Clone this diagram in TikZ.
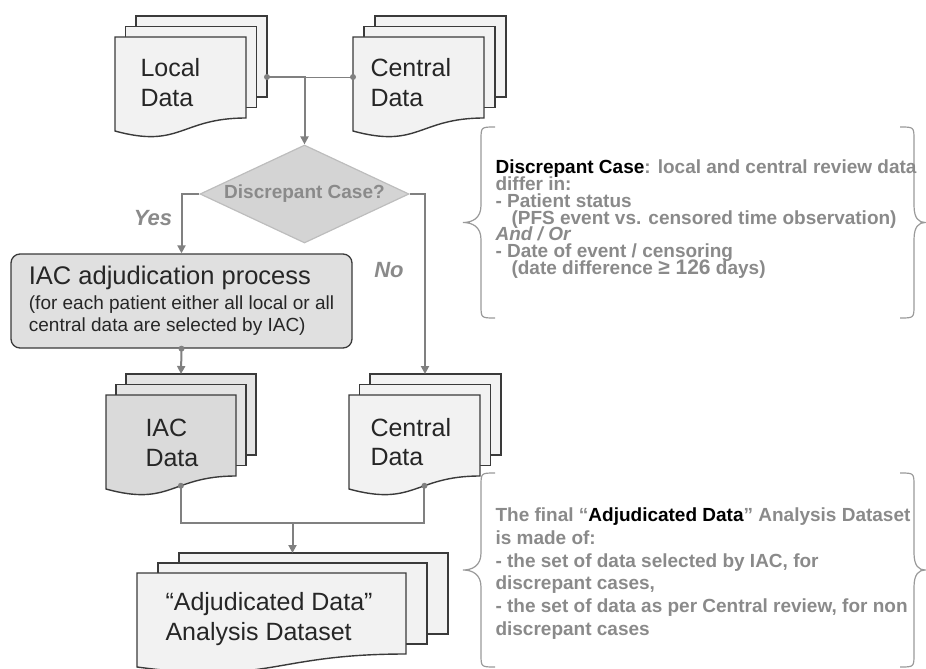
\documentclass[tikz,border=0pt]{standalone}
\usepackage{fontspec}
\setmainfont{Liberation Sans}
\usetikzlibrary{arrows.meta,calc,positioning,shapes.geometric}
\definecolor{ink}{HTML}{262626}
\definecolor{flowgray}{HTML}{808080}
\definecolor{pageline}{HTML}{3A3A3A}
\definecolor{paper}{HTML}{F2F2F2}
\definecolor{paperdark}{HTML}{DADADA}
\definecolor{paperback}{HTML}{E4E4E4}
\definecolor{procfill}{HTML}{E0E0E0}
\definecolor{diamondfill}{HTML}{D4D4D4}
\definecolor{diamondline}{HTML}{BDBDBD}
\definecolor{notegray}{HTML}{8A8A8A}
\definecolor{bracegray}{HTML}{9A9A9A}
\def\tightlines{\lineskiplimit=-20pt\relax}
\tikzset{
  page/.style={draw=pageline,line width=1.4pt},
  doctext/.style={anchor=base west,align=left,text=ink,font=\fontsize{25}{29.5}\selectfont},
  decision/.style={diamond,draw=diamondline,fill=diamondfill,line width=1.2pt,aspect=2.13,
    minimum width=209pt,minimum height=98pt,inner sep=0pt,text=notegray,
    font=\bfseries\fontsize{19}{22}\selectfont},
  procbox/.style={draw=pageline,fill=procfill,rounded corners=9pt,line width=1.3pt,
    minimum width=341pt,minimum height=94pt,inner sep=0pt,align=left,text=ink,
    font=\fontsize{19}{22.7}\selectfont},
  flow/.style={draw=flowgray,line width=2pt,-{Triangle[length=8pt,width=8pt]}},
  link/.style={draw=flowgray,line width=2pt},
  thinlink/.style={draw=flowgray,line width=1pt},
  branch/.style={text=notegray,font=\bfseries\itshape\fontsize{22}{24}\selectfont},
  brace/.style={draw=bracegray,line width=1.2pt},
  note/.style={anchor=base west,align=left,text=notegray}
}
% #1 name, #2 x, #3 y of front page, #4 width, #5 dx, #6 dy, #7 front fill, #8 back fill
\newcommand{\docstack}[8]{%
  \draw[page,fill=#8] ({#2+2*#5},{#3-2*#6}) rectangle ++(#4,81);
  \draw[page,fill=#8] ({#2+#5},{#3-#6}) rectangle ++(#4,81);
  \draw[page,fill=#7] (#2,#3) -- ++(#4,0) -- ++(0,81)
    .. controls ({#2+#4/2},{#3+81}) and ({#2+#4/2},{#3+112}) .. (#2,{#3+94})
    coordinate[pos=0.4] (#1-s) -- cycle;
  \coordinate (#1-n) at ({#2+#4/2+#5},{#3-2*#6});
  \coordinate (#1-e) at ({#2+#4+2*#5},{#3+40});
  \coordinate (#1-w) at (#2,{#3+40});
}
\newcommand{\bracepair}[2]{%
  \pgfmathsetmacro\bmid{(#1+#2)/2}
  \draw[brace] (495,#1) .. controls (481,#1) .. (481,{#1+13}) -- (481,{\bmid-17})
    .. controls (481,{\bmid-4}) and (472,\bmid) .. (463,\bmid)
    .. controls (472,\bmid) and (481,{\bmid+4}) .. (481,{\bmid+17})
    -- (481,{#2-13}) .. controls (481,#2) .. (495,#2);
  \draw[brace] (900,#1) .. controls (914,#1) .. (914,{#1+13}) -- (914,{\bmid-17})
    .. controls (914,{\bmid-4}) and (919,\bmid) .. (925,\bmid)
    .. controls (919,\bmid) and (914,{\bmid+4}) .. (914,{\bmid+17})
    -- (914,{#2-13}) .. controls (914,#2) .. (900,#2);
}

\begin{document}
\begin{tikzpicture}[x=1pt,y=-1pt]
  \useasboundingbox (0,0) rectangle (926,669);
  \docstack{local}{115}{37}{131}{10.5}{10.5}{paper}{paper}
  \docstack{central}{353}{37}{131}{11}{10.5}{paper}{paper}
  \docstack{iacdoc}{106}{395}{130}{10}{10.5}{paperdark}{paperback}
  \docstack{ctrdoc}{349}{395}{131}{10.5}{10.5}{paper}{paper}
  \docstack{adjdoc}{137}{573}{269}{21}{10}{paper}{paper}
  \node[doctext] (localtxt) at (137,106) {Local\\Data};
  \node[doctext] (centraltxt) at (367,106.5) {Central\\Data};
  \node[doctext] (iactxt) at (142,466) {IAC\\Data};
  \node[doctext] (ctrtxt) at (367,465.5) {Central\\Data};
  \node[doctext] (adjtxt) at (162,640) {“Adjudicated Data”\\Analysis Dataset};
  \node[decision] (dq) at (304.5,194) {Discrepant Case?};
  \node[procbox] (iacproc) at (181.5,301)
    {{\fontsize{25.5}{28}\selectfont IAC adjudication process}\\[1.5pt]
     (for each patient either all local or all\\central data are selected by IAC)};
  \draw[flow] (local-e) -| (dq.north);
  \draw[thinlink] (dq.north |- local-e) -- (central-w);
  \draw[flow] (dq.west) -| node[pos=0.7,left=5pt,branch] (yes) {Yes} (iacproc.north);
  \draw[flow] (dq.east) -| node[pos=0.71,left=17pt,branch] (no) {No} (ctrdoc-n);
  \draw[flow] (iacproc.south) -- (iacdoc-n);
  \coordinate (merge) at ($(adjdoc-n)+(0,-30)$);
  \draw[link] (iacdoc-s) |- (merge);
  \draw[link] (ctrdoc-s) |- (merge);
  \draw[flow] (merge) -- (adjdoc-n);
  \foreach \p in {local-e,central-w,iacproc.south,iacdoc-s,ctrdoc-s}
    \fill[flowgray] (\p) circle (3pt);
  \bracepair{127}{318}
  \bracepair{473}{667}
  \node[note,font=\bfseries\fontsize{19}{16.9}\selectfont\tightlines] (discnote) at (492,274.7)
    {\textcolor{black}{Discrepant Case}: local and central review data\\
     differ in:\\
     - Patient status\\
     \hspace*{16pt}(PFS event vs. censored time observation)\\
     \textit{And / Or}\\
     - Date of event / censoring\\
     \hspace*{16pt}(date difference {\fontsize{21}{16.9}\selectfont ≥ 126} days)};
  \node[note,font=\bfseries\fontsize{19}{22.7}\selectfont\tightlines] (adjnote) at (492,635.2)
    {The final “\textcolor{black}{Adjudicated Data}” Analysis Dataset\\
     is made of:\\
     - the set of data selected by IAC, for\\
     discrepant cases,\\
     - the set of data as per Central review, for non\\
     discrepant cases};
\end{tikzpicture}
\end{document}
